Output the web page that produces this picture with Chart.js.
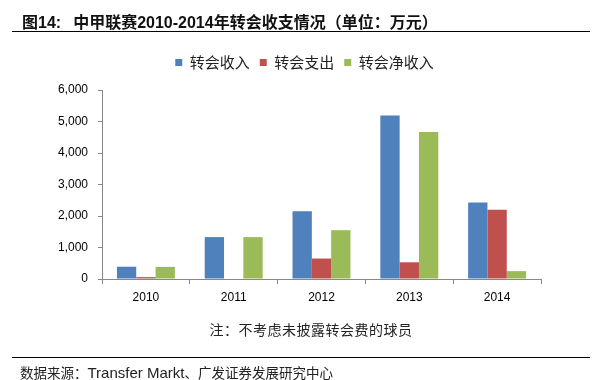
<!DOCTYPE html>
<html>
<head>
<meta charset="utf-8">
<script src="https://cdn.jsdelivr.net/npm/chart.js@4"></script>
<style>
  html, body { margin: 0; padding: 0; background: #fff; }
  body { width: 604px; height: 380px; position: relative; overflow: hidden; }
  #c { position: absolute; left: 0; top: 0; }
  .title { position: absolute; left: 22px; top: 9px; line-height: 16px; font: bold 16px "Liberation Sans", "Noto Sans CJK SC", sans-serif; color: #111; white-space: nowrap; }
  .title .gap { display: inline-block; width: 12px; }
  .hline { position: absolute; left: 12px; width: 578px; height: 0; border-top: 1.5px solid #000; }
  .note { position: absolute; left: 0; width: 622px; top: 319px; text-align: center; font: 14px "Noto Sans CJK SC", sans-serif; color: #222; white-space: nowrap; letter-spacing: 0.5px; }
  .src { position: absolute; left: 20px; top: 364px; height: 16px; line-height: 16px; font: 15px "Liberation Sans", sans-serif; color: #222; white-space: nowrap; }
  .src .cjk { font: 13.5px "Noto Sans CJK SC", sans-serif; line-height: 16px; }
</style>
</head>
<body>
<canvas id="c" width="604" height="380"></canvas>
<div class="title">图14:<span class="gap"></span>中甲联赛2010-2014年转会收支情况（单位：万元）</div>
<div class="hline" style="top:31px"></div>
<div class="note">注：不考虑未披露转会费的球员</div>
<div class="hline" style="top:357px"></div>
<div class="src"><span class="cjk">数据来源：</span>Transfer Markt<span class="cjk">、广发证券发展研究中心</span></div>
<script>
const categories = ['2010', '2011', '2012', '2013', '2014'];
const seriesNames = ['转会收入', '转会支出', '转会净收入'];
const income = [390, 1330, 2150, 5190, 2430];
const expense = [60, 0, 650, 530, 2200];
const netIncome = [385, 1330, 1550, 4670, 250];
const yTicks = [0, 1000, 2000, 3000, 4000, 5000, 6000];
const colors = ['#4F81BD', '#C0504D', '#9BBB59'];

const tickFont = { family: '"Liberation Sans", sans-serif', size: 12 };

const legendTweak = {
  id: 'legendTweak',
  beforeLayout(chart) {
    const lg = chart.legend;
    if (lg && !lg._patched) {
      const f = lg.fit;
      lg.fit = function () { f.call(this); this.height += 10; };
      lg._patched = true;
    }
  },
  afterLayout(chart) {
    const lg = chart.legend;
    if (lg) { lg.left += 34; lg.right += 34; }
  }
};

new Chart(document.getElementById('c'), {
  type: 'bar',
  data: {
    labels: categories,
    datasets: [
      { label: seriesNames[0], data: income, backgroundColor: colors[0] },
      { label: seriesNames[1], data: expense, backgroundColor: colors[1] },
      { label: seriesNames[2], data: netIncome, backgroundColor: colors[2] }
    ]
  },
  plugins: [legendTweak],
  options: {
    responsive: false,
    animation: false,
    devicePixelRatio: 1,
    layout: { padding: { top: 45, left: 0, right: 63, bottom: 61 } },
    datasets: { bar: { categoryPercentage: 0.66, barPercentage: 1.0 } },
    plugins: {
      legend: {
        position: 'top',
        labels: {
          boxWidth: 7, boxHeight: 7, padding: 10,
          color: '#222',
          font: { family: '"Noto Sans CJK SC", sans-serif', size: 15 }
        }
      },
      tooltip: { enabled: false }
    },
    scales: {
      x: {
        grid: { display: true, drawOnChartArea: false, tickLength: 5, color: '#888', offset: true },
        border: { color: '#888' },
        ticks: { color: '#000', font: tickFont, padding: 6 },
        afterFit: s => { s.height = 40; }
      },
      y: {
        min: 0, max: 6000,
        afterBuildTicks: s => { s.ticks = yTicks.map(v => ({ value: v })); },
        grid: { display: true, drawOnChartArea: false, tickLength: 4, color: '#888' },
        border: { color: '#888' },
        ticks: {
          color: '#000', font: tickFont, padding: 10,
          callback: v => Number(v).toLocaleString('en-US')
        },
        afterFit: s => { s.width = 102; }
      }
    }
  }
});
</script>
</body>
</html>
